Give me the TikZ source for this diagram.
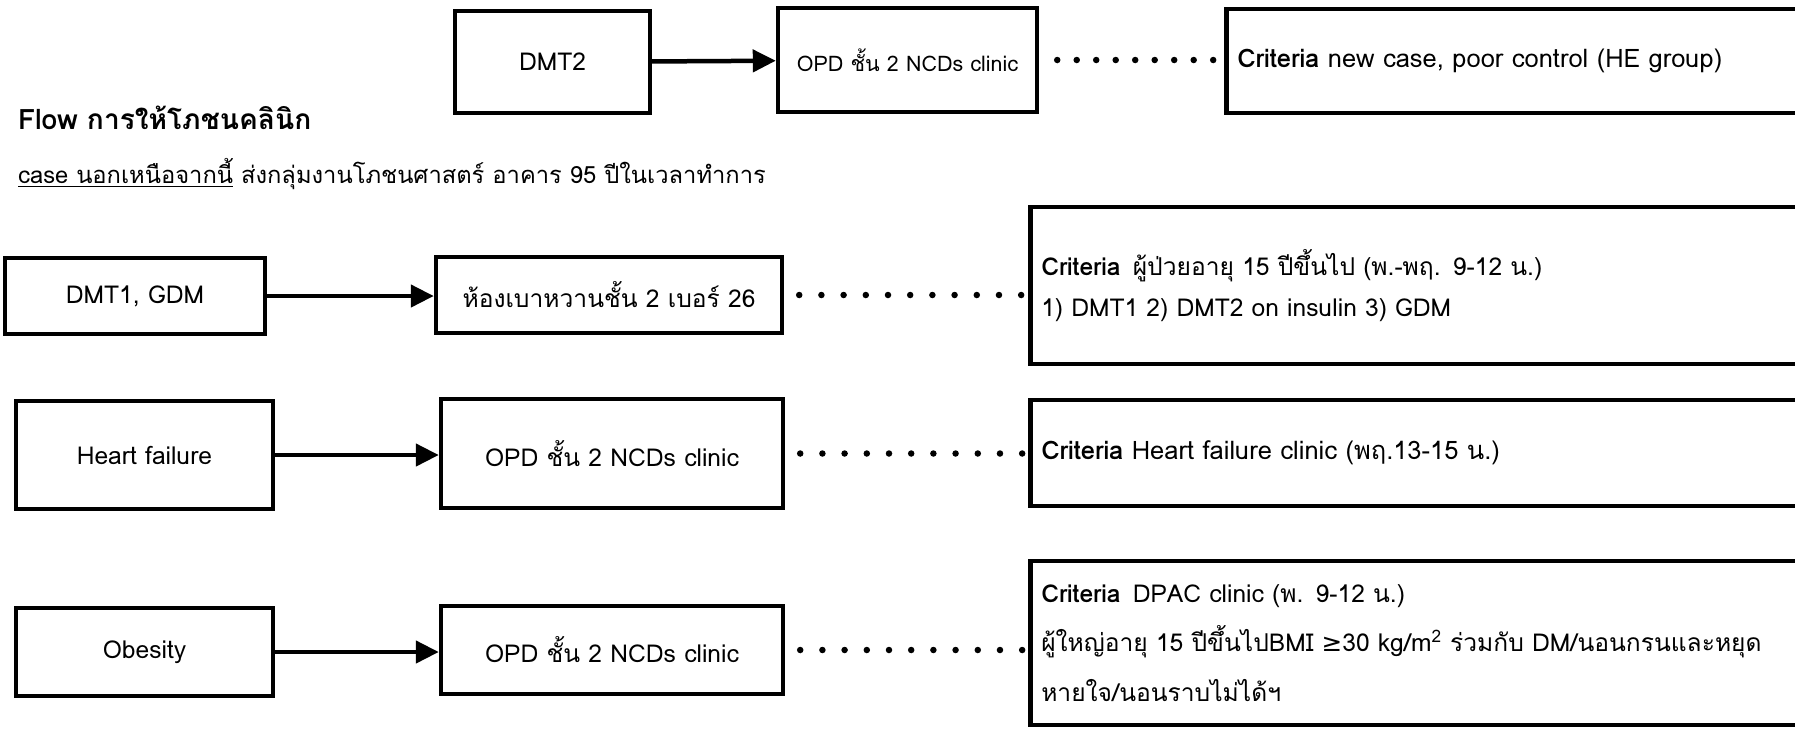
\documentclass[tikz,border=0pt]{standalone}
\usepackage{fontspec}
\setmainfont{Loma}[Script=Thai]
\newfontfamily\symfont{DejaVu Sans}
\usetikzlibrary{arrows.meta, positioning}

\begin{document}
\begin{tikzpicture}[x=0.02cm, y=-0.02cm,
  box/.style={draw, line width=0.09cm, align=center, inner sep=0pt, font=\fontsize{14}{17}\selectfont},
  crit/.style={draw, line width=0.09cm, anchor=west, align=left, text width=16cm, inner xsep=0.22cm, font=\fontsize{14.5}{17}\selectfont},
  flow/.style={-{Triangle[length=0.46cm, width=0.44cm]}, line width=0.09cm},
  dots/.style={line width=0.13cm, line cap=round, dash pattern=on 0pt off 0.444cm, dash phase=0.144cm}]
\useasboundingbox (0,0) rectangle (1795,728);
\clip (0,0) rectangle (1795,728);

% Heading
\node[anchor=west, font=\fontsize{16}{19}\selectfont\bfseries] (title) at (12,118) {Flow การให้โภชนคลินิก};
\node[anchor=west, font=\fontsize{13.5}{16}\selectfont] (note) at (12,174) {\underline{case นอกเหนือจากนี้} ส่งกลุ่มงานโภชนศาสตร์ อาคาร 95 ปีในเวลาทำการ};

% DMT2 row
\node[box, minimum width=3.9cm, minimum height=2.04cm] (dmtii) at (552.5,62) {DMT2};
\node[box, minimum width=5.18cm, minimum height=2.08cm, font=\fontsize{12.2}{14}\selectfont] (opdtop) at (907.5,60) {OPD ชั้น 2 NCDs clinic};
\node[crit, minimum height=2.08cm] (crittop) at (1224,61) {\textbf{Criteria} new case, poor control (HE group)};
\draw[flow] (dmtii) -- (opdtop);
\draw[dots, dash pattern=on 0pt off 0.39cm, dash phase=0.03cm] (opdtop.east) -- (opdtop.east -| crittop.west);

% DMT1, GDM row
\node[box, minimum width=5.2cm, minimum height=1.52cm] (dmti) at (135,296) {DMT1, GDM};
\node[box, minimum width=6.92cm, minimum height=1.52cm] (hong) at (609,295) {ห้องเบาหวานชั้น 2 เบอร์ 26};
\node[crit, minimum height=3.14cm, font=\fontsize{14}{23}\selectfont] (critdm) at (1028,285.5) {\textbf{Criteria}\enspace ผู้ป่วยอายุ 15 ปีขึ้นไป (พ.-พฤ. 9-12 น.)\\1) DMT1 2) DMT2 on insulin 3) GDM};
\draw[flow] (dmti.east) -- (dmti.east -| hong.west);
\draw[dots] (hong.east) -- (hong.east -| critdm.west);

% Heart failure row
\node[box, minimum width=5.14cm, minimum height=2.16cm] (hf) at (144.5,455) {Heart failure};
\node[box, minimum width=6.84cm, minimum height=2.18cm] (opdhf) at (612,453.5) {OPD ชั้น 2 NCDs clinic};
\node[crit, minimum height=2.12cm] (crithf) at (1028,453) {\textbf{Criteria} Heart failure clinic (พฤ.13-15 น.)};
\draw[flow] (hf.east) -- (hf.east -| opdhf.west);
\draw[dots] (opdhf.east) -- (opdhf.east -| crithf.west);

% Obesity row
\node[box, minimum width=5.14cm, minimum height=1.76cm] (ob) at (144.5,652) {Obesity};
\node[box, minimum width=6.84cm, minimum height=1.76cm] (opdob) at (612,650) {OPD ชั้น 2 NCDs clinic};
\node[crit, minimum height=3.28cm, font=\fontsize{14}{28}\selectfont] (critob) at (1028,643) {\textbf{Criteria}\enspace DPAC clinic (พ. 9-12 น.)\\ผู้ใหญ่อายุ 15 ปีขึ้นไปBMI {\symfont ≥}30 kg/m\textsuperscript{2} ร่วมกับ DM/นอนกรนและหยุด\\หายใจ/นอนราบไม่ได้ฯ};
\draw[flow] (ob.east) -- (ob.east -| opdob.west);
\draw[dots] (opdob.east) -- (opdob.east -| critob.west);
\end{tikzpicture}
\end{document}
